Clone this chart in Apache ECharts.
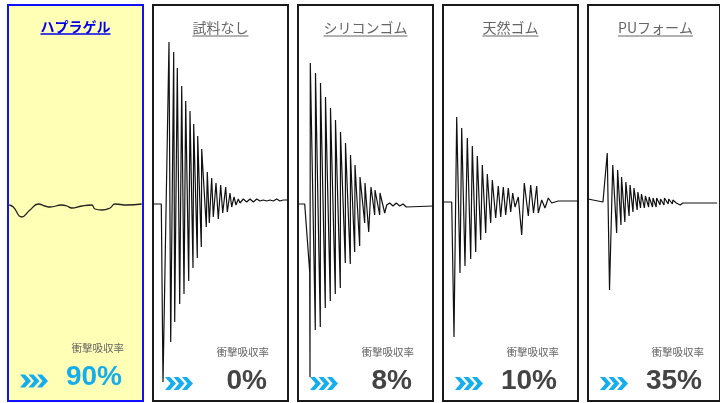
<!DOCTYPE html>
<html><head><meta charset="utf-8">
<script src="https://cdn.jsdelivr.net/npm/echarts@6/dist/echarts.min.js"></script>
<style>html,body{margin:0;padding:0;background:#fff}#c{width:720px;height:403px}</style>
</head><body><div id="c"></div>
<script>
// ---- data ----
const panelTitles = ['ハプラゲル', '試料なし', 'シリコンゴム', '天然ゴム', 'PUフォーム'];
const rateLabel = '衝撃吸収率';
const absorptionRates = ['90%', '0%', '8%', '10%', '35%'];

// [time, amplitude] per sample
const waveHapragel = [[1.3,-1],[5.3,-3],[13.7,-13],[22,-6],[30.3,0],[37,-2],[42,-3],[53.7,-1],[59,-2],[63.7,-4],[73.7,-2],[83.7,-1],[87,-5],[93.7,-6],[102,-4],[107,0],[118.7,-1],[133.7,0]];
const waveNone = [[0,0],[8.3,0],[10,-178],[16,162],[17.7,-138],[20.7,152],[21.7,-118],[24.3,136],[26.7,-100],[28.7,118],[31,-90],[32.7,103],[35.7,-77],[37,93],[40,-64],[40.7,80],[44.3,-54],[44.7,68],[48.3,-43],[48.7,55],[53.3,-23],[54.3,32],[56.3,-19],[58.7,26],[60.3,-13],[63,21],[65.3,-15],[67.7,19],[69.7,-9],[72.7,17],[74.3,-8],[77,11],[78.7,-3],[81,7],[83,-1],[85.3,5],[87,1],[90.3,5],[93.7,2],[97,5],[100.3,2],[103.7,5],[107,3],[110.3,4],[113.7,3],[117,4],[120.3,3],[123.7,5],[127,3],[130.3,4],[134.3,4]];
const waveSilicone = [[0,0],[6.7,0],[11.7,-68],[12,-173],[12.3,141],[17.3,-126],[17.5,131],[22.3,-123],[22.5,121],[27.3,-104],[27.5,107],[32.3,-97],[32.5,96],[37.3,-90],[37.5,84],[42.3,-84],[42.5,72],[47.3,-59],[47.5,61],[52.3,-60],[52.5,49],[56.7,-48],[57,39],[61.7,-42],[62,27],[66.7,-19],[67,21],[70.7,-28],[73,17],[76.7,-11],[77,14],[81.7,-11],[82,11],[86.7,-9],[88.7,-1],[91.7,1],[95,-2],[98.3,1],[101.7,-2],[105,0],[108.3,-3],[135,-2]];
const waveNatural = [[0,2],[8.7,2],[11,-133],[13.7,87],[17,-69],[18.7,76],[22,-62],[24.3,66],[27.7,-55],[29.3,58],[32.7,-48],[34.3,48],[37.7,-36],[39.3,39],[42.7,-29],[44.3,30],[47.7,-19],[49.3,24],[52.7,-14],[55.3,18],[57.7,-13],[60.3,17],[62.7,-11],[65.3,16],[67.7,-8],[69.7,11],[72,-3],[75.3,7],[78.7,-31],[81.3,21],[85.3,-12],[87.7,19],[90.5,-9],[93.7,18],[95.3,-9],[98.7,4],[102,-4],[105.3,6],[108.7,1],[112,2],[115.3,3],[135.3,3]];
const wavePU = [[0,5],[15.3,2],[19.7,51],[22,-86],[25.3,39],[29.3,-29],[30.3,34],[33.7,-21],[34.3,27],[37.7,-18],[38.7,22],[42,-12],[43,19],[46,-8],[47,16],[50.3,-6],[51,12],[53.7,-4],[54.7,10],[57.7,-4],[58.7,8],[62,-3],[62.5,7],[66,-3],[66.5,6],[69.7,-3],[70.2,6],[73.7,-1],[74.2,5],[77.7,-1],[78.2,6],[82,0],[82.5,5],[86.3,0],[86.8,4],[90.3,1],[91,3],[94.3,-1],[97,1],[132,1]];
const waves = [waveHapragel, waveNone, waveSilicone, waveNatural, wavePU];

// ---- layout ----
const P_LEFT0 = 8, P_STEP = 145, P_W = 135, P_TOP = 5, P_H = 396;
const CYAN = '#14aeee';
const mctx = document.createElement('canvas').getContext('2d');
function tw(text, font){ mctx.font = font; return mctx.measureText(text).width; }

const grids = [], xAxes = [], yAxes = [], series = [], graphics = [];
waves.forEach((w, i) => {
  const left = P_LEFT0 + i * P_STEP;
  const hl = i === 0;
  grids.push({ left: left, top: P_TOP, width: P_W, height: P_H, show: true,
    backgroundColor: hl ? '#ffffb6' : '#ffffff',
    borderColor: hl ? '#1010ff' : '#1a1a1a', borderWidth: 2 });
  xAxes.push({ type: 'value', gridIndex: i, min: 0, max: 135, show: false });
  yAxes.push({ type: 'value', gridIndex: i, min: -197, max: 199, show: false });
  series.push({ type: 'line', xAxisIndex: i, yAxisIndex: i, data: w, showSymbol: false,
    smooth: hl ? 0.5 : false, lineStyle: { color: hl ? '#222' : '#111', width: hl ? 1.3 : 1.2 },
    silent: true, z: 3 });

  const cx = left + P_W / 2;
  const tFont = (hl ? 'bold ' : '') + '14px "Noto Sans CJK JP"';
  const tColor = hl ? '#0000ee' : '#666666';
  const ty = hl ? 27 : 28;
  graphics.push({ type: 'text', z: 10, style: { text: panelTitles[i], x: cx, y: ty, font: tFont, fill: tColor,
    align: 'center', verticalAlign: 'middle', textAlign: 'center', textVerticalAlign: 'middle' } });
  const w2 = tw(panelTitles[i], tFont) / 2;
  const uy = hl ? 34 : 36;
  graphics.push({ type: 'line', z: 10, shape: { x1: cx - w2, y1: uy, x2: cx + w2, y2: uy },
    style: { stroke: tColor, lineWidth: hl ? 1.3 : 1 } });

  const ly = hl ? 348 : 352;
  graphics.push({ type: 'text', z: 10, style: { text: rateLabel, x: left + 116, y: ly,
    font: '10.5px "Noto Sans CJK JP"', fill: '#666666',
    align: 'right', verticalAlign: 'middle', textAlign: 'right', textVerticalAlign: 'middle' } });
  const py = hl ? 377 : 381;
  graphics.push({ type: 'text', z: 10, style: { text: absorptionRates[i], x: left + 114, y: py,
    font: 'bold 28px "Liberation Sans"', fill: hl ? CYAN : '#444444',
    align: 'right', verticalAlign: 'middle', textAlign: 'right', textVerticalAlign: 'middle' } });

  const chy = hl ? 381 : 383.5;
  for (let k = 0; k < 3; k++) {
    const x0 = left + 12 + k * 8.5;
    graphics.push({ type: 'polygon', z: 10, shape: { points: [
      [x0, chy - 6.5], [x0 + 5, chy - 6.5], [x0 + 11, chy], [x0 + 5, chy + 6.5], [x0, chy + 6.5], [x0 + 5.5, chy]
    ] }, style: { fill: CYAN } });
  }
});

const chart = echarts.init(document.getElementById('c'), null, { renderer: 'canvas' });
chart.setOption({
  animation: false,
  backgroundColor: '#ffffff',
  grid: grids, xAxis: xAxes, yAxis: yAxes, series: series, graphic: graphics
});
</script></body></html>
